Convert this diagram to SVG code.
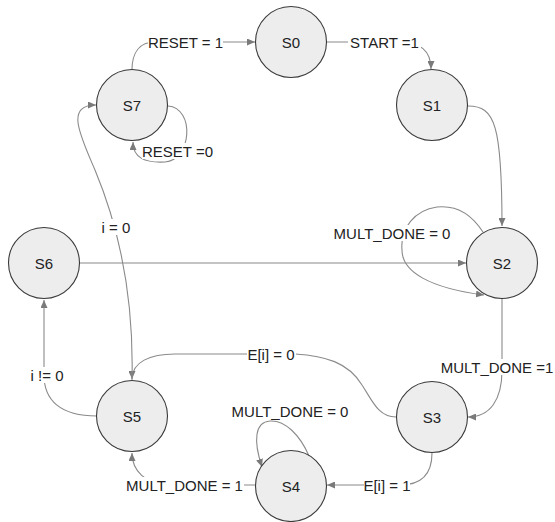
<svg xmlns="http://www.w3.org/2000/svg" width="555" height="522" viewBox="0 0 555 522">
<style>
.node circle{fill:#ededed;stroke:#3a3a3a;stroke-width:1.1}
text{font-family:"Liberation Sans",Arial,sans-serif;font-size:15px;fill:#222;text-anchor:middle;dominant-baseline:central}
.edge{fill:none;stroke:#8a8a8a;stroke-width:1.1}
.arr{marker-end:url(#ah)}
.bg{fill:#fff}
</style>
<defs>
<marker id="ah" markerWidth="9" markerHeight="7" refX="8" refY="3.5" orient="auto" markerUnits="userSpaceOnUse">
<path d="M0,0 L8,3.5 L0,7 z" fill="#7a7a7a"/>
</marker>
</defs>
<rect width="555" height="522" fill="#fff"/>
<g id="connectors">
<path class="edge arr" d="M132,70 C132,52 140,42 155,42 L255,42"/>
<path class="edge arr" d="M327,42 L400,42 C420,42 431,50 431,69"/>
<path class="edge arr" d="M468,106 C495,106 502,125 502,226"/>
<path class="edge arr" d="M483,232 C470,212 455,205 437,207 C415,210 400,228 402,250 C402,272 430,288 484,295"/>
<path class="edge arr" d="M80,263 L466,263"/>
<path class="edge arr" d="M502,299 L502,370 C502,400 490,417 468,417"/>
<path class="edge arr" d="M432,453 C432,475 420,485 400,485 L327,485"/>
<path class="edge arr" d="M309,456 C300,435 285,420 270,421 C255,422 253,440 262,467"/>
<path class="edge arr" d="M255,485 L170,485 C145,485 132,470 132,453"/>
<path class="edge arr" d="M396,417 C378,417 372,400 362,385 C348,362 325,356 295,354 L175,354 C150,354 132,362 132,379"/>
<path class="edge arr" d="M97,416 C60,416 44,400 44,375 L44,300"/>
<path class="edge arr" d="M132,380 C134,300 120,230 95,170 C80,135 65,105 96,105"/>
<path class="edge arr" d="M168,106 C195,108 192,160 165,162 C145,163 133,158 133,142"/>
</g>
<g id="labels">
<rect class="bg" x="148" y="34" width="75" height="16"/><text x="185.5" y="42">RESET = 1</text>
<rect class="bg" x="348" y="34" width="73" height="16"/><text x="384.5" y="42">START =1</text>
<rect class="bg" x="142" y="143" width="71" height="16"/><text x="177.5" y="151">RESET =0</text>
<rect class="bg" x="99" y="219" width="34" height="16"/><text x="116" y="227">i = 0</text>
<rect class="bg" x="332" y="225" width="120" height="16"/><text x="392" y="233">MULT_DONE = 0</text>
<rect class="bg" x="439" y="359" width="116" height="16"/><text x="497" y="367">MULT_DONE =1</text>
<rect class="bg" x="247" y="346" width="49" height="16"/><text x="271" y="354">E[i] = 0</text>
<rect class="bg" x="364" y="477" width="46" height="16"/><text x="387" y="485">E[i] = 1</text>
<rect class="bg" x="125" y="477" width="119" height="16"/><text x="184.5" y="485">MULT_DONE = 1</text>
<rect class="bg" x="231" y="403" width="118" height="16"/><text x="290" y="411">MULT_DONE = 0</text>
<rect class="bg" x="29" y="367" width="36" height="16"/><text x="47" y="375">i != 0</text>
</g>
<g id="S0" class="node"><circle cx="291" cy="42" r="35.5"/><text x="291" y="42">S0</text></g>
<g id="S1" class="node"><circle cx="432" cy="105" r="35.5"/><text x="432" y="105">S1</text></g>
<g id="S2" class="node"><circle cx="502" cy="263" r="35.5"/><text x="502" y="263">S2</text></g>
<g id="S3" class="node"><circle cx="432" cy="417" r="35.5"/><text x="432" y="417">S3</text></g>
<g id="S4" class="node"><circle cx="291" cy="486" r="35.5"/><text x="291" y="486">S4</text></g>
<g id="S5" class="node"><circle cx="132" cy="416" r="35.5"/><text x="132" y="416">S5</text></g>
<g id="S6" class="node"><circle cx="44" cy="263" r="35.5"/><text x="44" y="263">S6</text></g>
<g id="S7" class="node"><circle cx="132" cy="105" r="35.5"/><text x="132" y="105">S7</text></g>
</svg>
